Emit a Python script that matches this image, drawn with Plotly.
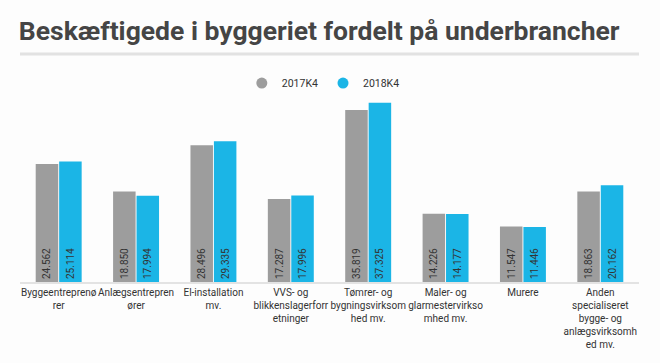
import plotly.graph_objects as go

categories = [
    "Byggeentreprenø<br>rer",
    "Anlægsentrepren<br>ører",
    "El-installation<br>mv.",
    "VVS- og<br>blikkenslagerforr<br>etninger",
    "Tømrer- og<br>bygningsvirksom<br>hed mv.",
    "Maler- og<br>glarmestervirkso<br>mhed mv.",
    "Murere",
    "Anden<br>specialiseret<br>bygge- og<br>anlægsvirksomh<br>ed mv.",
]
series_names = ["2017K4", "2018K4"]
values_2017 = [24562, 18850, 28496, 17287, 35819, 14226, 11547, 18863]
values_2018 = [25114, 17994, 29335, 17996, 37325, 14177, 11446, 20162]
colors = ["#9d9d9d", "#1bb5e6"]

fig = go.Figure()
for name, vals, col in zip(series_names, [values_2017, values_2018], colors):
    fig.add_trace(go.Bar(
        x=categories, y=vals, name=name, showlegend=False,
        marker=dict(color=col, line=dict(width=0)),
        texttemplate="%{y:,}", textposition="inside", insidetextanchor="start",
        textangle=-90, textfont=dict(family="Roboto", size=10, color="#333333"),
        constraintext="none",
    ))
# legend entries with circular symbols
for name, col in zip(series_names, colors):
    fig.add_trace(go.Scatter(
        x=[None], y=[None], mode="markers", name=name,
        marker=dict(symbol="circle", size=11, color=col),
    ))

fig.update_layout(
    width=660, height=363,
    paper_bgcolor="#fdfdfd", plot_bgcolor="#fdfdfd",
    separators=",.",
    barmode="group", bargap=0.394, bargroupgap=0.04,
    margin=dict(l=20, r=21, t=90, b=81, autoexpand=False),
    font=dict(family="Roboto", size=10, color="#333333"),
    title=dict(text="<b>Beskæftigede i byggeriet fordelt på underbrancher</b>",
               font=dict(family="Roboto", size=26.5, color="#454545"),
               xref="container", yref="container", x=0.0285, xanchor="left",
               y=0.914, yanchor="middle"),
    legend=dict(orientation="h", x=0.49, xanchor="center", y=1.036, yanchor="middle",
                font=dict(family="Roboto", size=10.5, color="#333333"),
                bgcolor="rgba(0,0,0,0)"),
    showlegend=True,
    xaxis=dict(showline=True, linecolor="#e3e3e3", linewidth=2, ticks="", tickangle=0,
               automargin=False,
               tickfont=dict(family="Roboto", size=10, color="#333333"),
               showgrid=False, fixedrange=True),
    yaxis=dict(range=[0, 40000], visible=False, showgrid=False, zeroline=False),
    shapes=[dict(type="line", xref="paper", yref="paper", x0=0, x1=1,
                 y0=1.188, y1=1.188, line=dict(color="#e2e2e2", width=3))],
)
fig.write_html("out.html", config={"displayModeBar": False},
               post_script="document.body.style.margin='0';document.body.style.background='#fdfdfd';")
